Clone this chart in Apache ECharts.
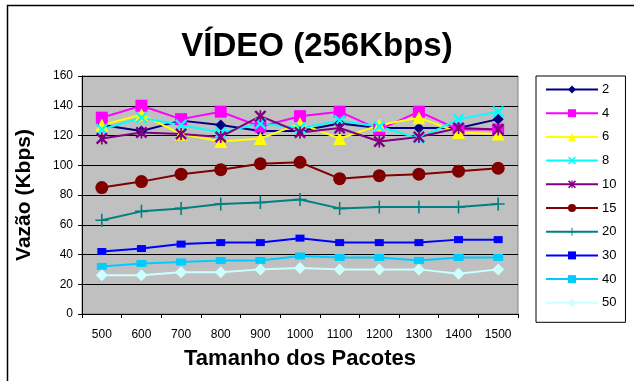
<!DOCTYPE html>
<html>
<head>
<meta charset="utf-8">
<script src="https://cdn.jsdelivr.net/npm/echarts@6/dist/echarts.min.js"></script>
<style>
  html, body { margin: 0; padding: 0; background: #fff; }
  #chart { width: 634px; height: 381px; }
</style>
</head>
<body>
<div id="chart"></div>
<script>
// Packet sizes (bytes) on the category axis
const packetSizes = ['500', '600', '700', '800', '900', '1000', '1100', '1200', '1300', '1400', '1500'];

// Throughput (Kbps) per number of sources
const names = ['2', '4', '6', '8', '10', '15', '20', '30', '40', '50'];
const s2  = [127, 123, 130, 127, 123, 123, 128, 125, 125, 125, 131];
const s4  = [132, 140, 131, 136, 126, 133, 136, 124, 136, 124, 124];
const s6  = [127, 134, 121, 116, 118, 128, 118, 127, 132, 122, 121];
const s8  = [124, 132, 127, 122, 128, 125, 130, 126, 118, 131, 136];
const s10 = [118, 122, 121, 119, 133, 122, 125, 116, 119, 125, 124];
const s15 = [85, 89, 94, 97, 101, 102, 91, 93, 94, 96, 98];
const s20 = [63, 69, 71, 74, 75, 77, 71, 72, 72, 72, 74];
const s30 = [42, 44, 47, 48, 48, 51, 48, 48, 48, 50, 50];
const s40 = [32, 34, 35, 36, 36, 39, 38, 38, 36, 38, 38];
const s50 = [26, 26, 28, 28, 30, 31, 30, 30, 30, 27, 30];

const yTicks = { min: 0, max: 160, interval: 20 };

// Marker shapes
const xMark = 'path://M0,1.4L1.4,0L5,3.6L8.6,0L10,1.4L6.4,5L10,8.6L8.6,10L5,6.4L1.4,10L0,8.6L3.6,5Z';
const starMark = 'path://M0,1.4L1.4,0L5,3.6L8.6,0L10,1.4L6.4,5L10,8.6L8.6,10L5,6.4L1.4,10L0,8.6L3.6,5Z M4.3,0L5.7,0L5.7,10L4.3,10Z';
const plusMark = 'path://M4.4,0H5.6V4.4H10V5.6H5.6V10H4.4V5.6H0V4.4H4.4Z';

const styles = [
  { color: '#000080', symbol: 'diamond', size: 11 },
  { color: '#FF00FF', symbol: 'rect', size: 12 },
  { color: '#FFFF00', symbol: 'triangle', size: 13 },
  { color: '#00FFFF', symbol: xMark, size: 12 },
  { color: '#800080', symbol: starMark, size: 12 },
  { color: '#800000', symbol: 'circle', size: 13 },
  { color: '#008080', symbol: plusMark, size: 13 },
  { color: '#0000FF', symbol: 'rect', size: [9, 7] },
  { color: '#00CCFF', symbol: 'rect', size: [10, 7] },
  { color: '#CCFFFF', symbol: 'diamond', size: 12 }
];
const values = [s2, s4, s6, s8, s10, s15, s20, s30, s40, s50];

const font = 'Arial, "Liberation Sans", sans-serif';

const series = names.map((n, i) => ({
  name: n,
  type: 'line',
  data: values[i],
  symbol: styles[i].symbol,
  symbolSize: styles[i].size,
  showAllSymbol: true,
  lineStyle: { color: styles[i].color, width: 2 },
  itemStyle: { color: styles[i].color },
  emphasis: { disabled: true },
  animation: false
}));

const chart = echarts.init(document.getElementById('chart'), null, { renderer: 'canvas' });
chart.setOption({
  backgroundColor: '#fff',
  animation: false,
  textStyle: { fontFamily: font },
  title: {
    text: 'VÍDEO (256Kbps)',
    left: 'center',
    top: 25,
    textStyle: { fontFamily: font, fontSize: 33, fontWeight: 'bold', color: '#000' }
  },
  graphic: [{
    type: 'rect',
    shape: { x: 7.5, y: 5.5, width: 700, height: 500 },
    style: { fill: 'none', stroke: '#000', lineWidth: 1.5 },
    silent: true
  }],
  legend: {
    orient: 'vertical',
    left: 536,
    top: 76,
    padding: [7, 9, 13, 9],
    itemWidth: 52,
    itemHeight: 10,
    itemGap: 10.7,
    borderColor: '#000',
    borderWidth: 1,
    textStyle: { fontFamily: font, fontSize: 13, color: '#000', padding: [0, 0, 0, -1] },
    data: names
  },
  grid: {
    left: 82, top: 76, right: 116, bottom: 67,
    outerBoundsMode: 'none',
    containLabel: false,
    show: true,
    backgroundColor: '#C0C0C0',
    borderColor: '#808080',
    borderWidth: 1
  },
  xAxis: {
    type: 'category',
    data: packetSizes,
    boundaryGap: true,
    name: 'Tamanho dos Pacotes',
    nameLocation: 'middle',
    nameGap: 34,
    nameTextStyle: { fontFamily: font, fontSize: 22, fontWeight: 'bold', color: '#000', verticalAlign: 'top' },
    axisLine: { lineStyle: { color: '#000', width: 1 } },
    axisTick: { show: true, length: 4, lineStyle: { color: '#000' } },
    axisLabel: { fontFamily: font, fontSize: 12, color: '#000', margin: 15 },
    splitLine: { show: false }
  },
  yAxis: {
    type: 'value',
    min: yTicks.min,
    max: yTicks.max,
    interval: yTicks.interval,
    name: 'Vazão (Kbps)',
    nameLocation: 'middle',
    nameGap: 47,
    nameTextStyle: { fontFamily: font, fontSize: 21, fontWeight: 'bold', color: '#000' },
    axisLine: { show: true, lineStyle: { color: '#000', width: 1 } },
    axisTick: { show: true, length: 4, lineStyle: { color: '#000' } },
    axisLabel: { fontFamily: font, fontSize: 12, color: '#000', margin: 9 },
    splitLine: { show: true, lineStyle: { color: '#000', width: 1 } }
  },
  series: series
});
</script>
</body>
</html>
